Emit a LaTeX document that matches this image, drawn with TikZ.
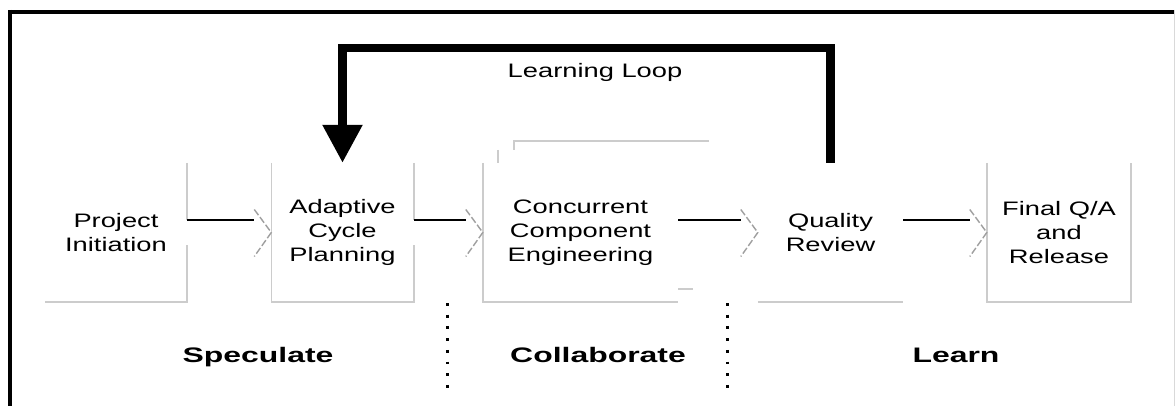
\documentclass[tikz,border=0pt]{standalone}
\usepackage{fontspec}
\setmainfont{Liberation Sans}[FakeStretch=1.4]
\newfontfamily\phasefont{Liberation Sans}[FakeStretch=1.52]
\usetikzlibrary{arrows.meta,calc}
\begin{document}
\begin{tikzpicture}[x=1pt,y=-1pt,
  box/.style={minimum width=142pt, minimum height=139pt, inner sep=0pt, align=center,
              font=\fontsize{19.5}{24}\selectfont},
  edge/.style={draw=gray!40, line width=1.6pt},
  flowline/.style={draw=black, line width=2pt},
  chev/.style={draw=gray!75, line width=1.4pt, dash pattern=on 7pt off 2.5pt},
  loopline/.style={line width=8.5pt, line join=miter, -{Triangle[length=38pt,width=38pt]}},
  phase/.style={font=\phasefont\bfseries\fontsize{21}{25}\selectfont, anchor=base},
  looplabel/.style={font=\fontsize{19.5}{24}\selectfont, anchor=base},
  sepline/.style={line width=3.2pt, dash pattern=on 2.8pt off 8.9pt},
  frame/.style={line width=4pt}]
\useasboundingbox (0,0) rectangle (1175,406);
\fill[white] (0,0) rectangle (1175,406);

% outer frame
\draw[frame] (8,12) -- (1175,12);
\draw[frame] (10,10) -- (10,406);
\draw[gray!30, line width=1pt] (1174,10) -- (1174,406);

% boxes
\node[box] (pi) at (116,232.5) {Project\\Initiation};
\node[box] (acp) at (342.5,232.5) {Adaptive\\Cycle\\Planning};
\node[box, minimum width=195pt] (cceC) at (611.5,210.5) {};
\node[box, minimum width=195pt] (cceB) at (595.5,219.5) {};
\node[box, minimum width=195pt] (cce) at (580.5,232.5) {Concurrent\\Component\\Engineering};
\node[box, minimum width=145pt] (qr) at (830.5,232.5) {Quality\\Review};
\node[box, minimum width=144pt] (fqa) at (1059,232.5) {Final Q/A\\and\\Release};

% visible box edges
\draw[edge] (pi.north east) -- ([yshift=12.5pt]pi.east);
\draw[edge] ([yshift=-12.5pt]pi.east) -- (pi.south east) -- (pi.south west);
\draw[edge] (acp.north west) -- (acp.south west) -- (acp.south east) -- ([yshift=-12.5pt]acp.east);
\draw[edge] (acp.north east) -- ([yshift=12.5pt]acp.east);
\draw[edge] (cce.north west) -- (cce.south west) -- (cce.south east);
\draw[edge] (cceB.north west) -- (cceB.north west |- cce.north);
\draw[edge] (cceC.north east) -- (cceC.north west) -- (cceC.north west |- cceB.north);
\draw[edge] (cce.south east |- cceB.south) -- (cceB.south east);
\draw[edge] (qr.south west) -- (qr.south east);
\draw[edge] (fqa.north west) -- (fqa.south west) -- (fqa.south east) -- (fqa.north east);

% flow arrows
\foreach \a/\b in {pi/acp, acp/cce, cce/qr, qr/fqa} {
  \draw[flowline] ([yshift=12.5pt]\a.east) -- ([xshift=-17pt,yshift=12.5pt]\b.west);
  \draw[chev] ([xshift=-17pt,yshift=23pt]\b.west) -- (\b.west) -- ([xshift=-17pt,yshift=-24pt]\b.west);
}

% learning loop
\coordinate (looptop) at (0,48);
\draw[loopline] (qr.north) -- (qr.north |- looptop) -- (acp.north |- looptop) -- (acp.north);
\node[looplabel] (ll) at (595,78) {Learning Loop};

% phase separators
\coordinate (d1a) at (447.5,303);
\coordinate (d1b) at (447.5,388);
\coordinate (d2a) at (727.5,303);
\coordinate (d2b) at (727.5,388);
\draw[sepline] (d1a) -- (d1b);
\draw[sepline] (d2a) -- (d2b);

% phase labels
\node[phase] (spec) at (258,362.5) {Speculate};
\node[phase] (coll) at (598,362.5) {Collaborate};
\node[phase] (learn) at (956,362.5) {Learn};
\end{tikzpicture}
\end{document}
